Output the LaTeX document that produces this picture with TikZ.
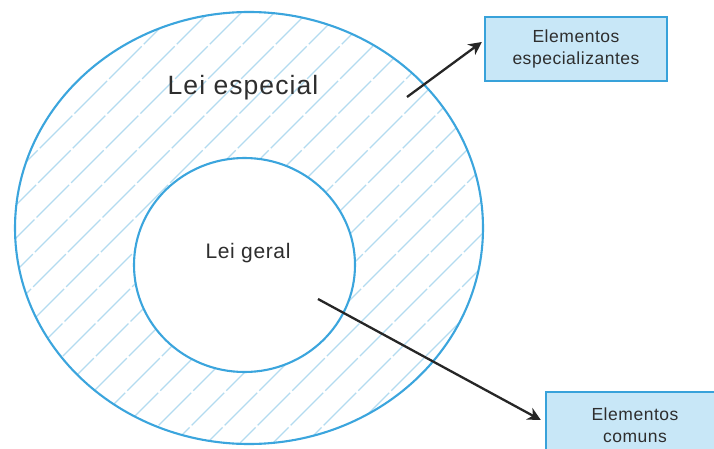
\documentclass[tikz,border=0pt]{standalone}
\usepackage{fontspec}
\setmainfont{Liberation Sans}
\usetikzlibrary{arrows.meta}
\definecolor{ringblue}{HTML}{3BA5DD}
\definecolor{hatchblue}{HTML}{B3DBF0}
\definecolor{boxfill}{HTML}{C8E7F7}
\definecolor{boxline}{HTML}{38A2DA}
\definecolor{txt}{HTML}{2E2E2E}
\tikzset{
  ring/.style={draw=ringblue, line width=2.1pt},
  hatchline/.style={draw=hatchblue, line width=1.4pt, dash pattern=on 46pt off 3pt},
  infobox/.style={draw=boxline, fill=boxfill, line width=2.4pt, align=center, text=txt,
    font=\fontsize{17.5}{21.5}\selectfont\addfontfeature{LetterSpace=3}},
  bigtext/.style={text=txt, font=\fontsize{26.5}{30}\selectfont\addfontfeature{LetterSpace=4}},
  midtext/.style={text=txt, font=\fontsize{21}{24}\selectfont\addfontfeature{LetterSpace=3}},
  pointer/.style={draw=black!85, line width=2.3pt, -{Stealth[length=13pt,width=13pt,inset=4pt]}}
}
\begin{document}
\begin{tikzpicture}[x=1pt,y=-1pt]
\useasboundingbox (0,0) rectangle (714,449);
\fill[white] (0,0) rectangle (714,449);
% hatching in the ring
\begin{scope}
  \clip (249,228) ellipse [x radius=234, y radius=216];
  \foreach \i in {0,...,32} {
    \draw[hatchline] (-470+33*\i,460) -- ++(470,-470);
  }
\end{scope}
\fill[white] (244.5,265) ellipse [x radius=110.5, y radius=107];
% rings
\draw[ring] (249,228) ellipse [x radius=234, y radius=216];
\draw[ring] (244.5,265) ellipse [x radius=110.5, y radius=107];
% labels
\node[bigtext] (le) at (243,88) {Lei especial};
\node[midtext] (lg) at (248,253) {Lei geral};
% boxes
\node[infobox, minimum width=182pt, minimum height=64pt] (b1) at (576,49) {Elementos\\especializantes};
\node[infobox, minimum width=178pt, minimum height=66pt] (b2) at (635,425) {Elementos\\comuns};
% arrows
\coordinate (a1) at (407,97);
\coordinate (a2) at (318,299);
\draw[pointer] (a1) -- ([xshift=-2pt,yshift=7pt]b1.west);
\draw[pointer] (a2) -- ([xshift=-4pt,yshift=5pt]b2.west);
\end{tikzpicture}
\end{document}
